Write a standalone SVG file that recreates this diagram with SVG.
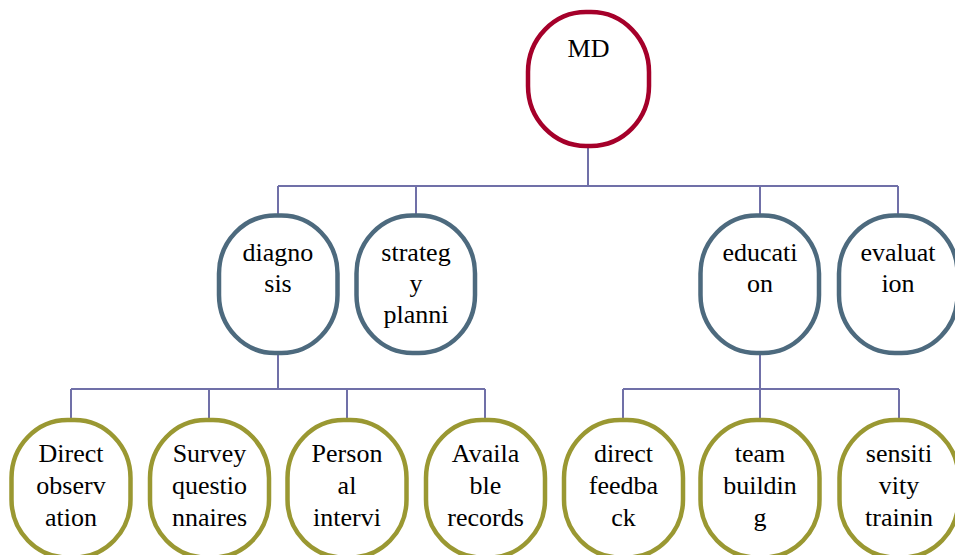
<svg xmlns="http://www.w3.org/2000/svg" width="955" height="555" viewBox="0 0 955 555">
<style>
.n{fill:#ffffff;stroke-width:4.5}
.top{stroke:#a5002a}
.l2{stroke:#4d6a7e}
.l3{stroke:#9a9832}
.c{fill:none;stroke:#7070a8;stroke-width:2}
text{font-family:"Liberation Serif","Times New Roman",serif;font-size:26px;fill:#000;text-anchor:middle}
</style>
<rect width="955" height="555" fill="#ffffff"/>
<g id="connectors">
<path class="c" d="M588,146V186M278,186H898M278,186V215M416,186V215M760,186V215M898,186V215"/>
<path class="c" d="M278,353V389M71,389H485M71,389V420M209,389V420M347,389V420M485,389V420"/>
<path class="c" d="M760,353V389M623,389H899M623,389V420M760,389V420M899,389V420"/>
</g>
<g id="MD"><rect class="n top" x="528" y="12" width="121" height="134" rx="58" ry="60"/><text x="588.5" y="57">MD</text></g>
<g id="diagnosis"><rect class="n l2" x="219" y="215.5" width="118.5" height="137.5" rx="56" ry="58"/><text x="278" y="261">diagno</text><text x="278" y="292">sis</text></g>
<g id="strategy"><rect class="n l2" x="356.5" y="215.5" width="118.5" height="137.5" rx="56" ry="58"/><text x="416" y="261">strateg</text><text x="416" y="292">y</text><text x="416" y="323">planni</text></g>
<g id="education"><rect class="n l2" x="700.5" y="215.5" width="118.5" height="137.5" rx="56" ry="58"/><text x="760" y="261">educati</text><text x="760" y="292">on</text></g>
<g id="evaluation"><rect class="n l2" x="839" y="215.5" width="118.5" height="137.5" rx="56" ry="58"/><text x="898" y="261">evaluat</text><text x="898" y="292">ion</text></g>
<g id="direct-observation"><rect class="n l3" x="11.5" y="420" width="119" height="137.5" rx="56" ry="58"/><text x="71" y="462">Direct</text><text x="71" y="494">observ</text><text x="71" y="526">ation</text></g>
<g id="survey-questionnaires"><rect class="n l3" x="150" y="420" width="119" height="137.5" rx="56" ry="58"/><text x="209.5" y="462">Survey</text><text x="209.5" y="494">questio</text><text x="209.5" y="526">nnaires</text></g>
<g id="personal-interview"><rect class="n l3" x="287.5" y="420" width="119" height="137.5" rx="56" ry="58"/><text x="347" y="462">Person</text><text x="347" y="494">al</text><text x="347" y="526">intervi</text></g>
<g id="available-records"><rect class="n l3" x="426" y="420" width="119" height="137.5" rx="56" ry="58"/><text x="485.5" y="462">Availa</text><text x="485.5" y="494">ble</text><text x="485.5" y="526">records</text></g>
<g id="direct-feedback"><rect class="n l3" x="564" y="420" width="119" height="137.5" rx="56" ry="58"/><text x="623.5" y="462">direct</text><text x="623.5" y="494">feedba</text><text x="623.5" y="526">ck</text></g>
<g id="team-building"><rect class="n l3" x="700.5" y="420" width="119" height="137.5" rx="56" ry="58"/><text x="760" y="462">team</text><text x="760" y="494">buildin</text><text x="760" y="526">g</text></g>
<g id="sensitivity-training"><rect class="n l3" x="839.5" y="420" width="119" height="137.5" rx="56" ry="58"/><text x="899" y="462">sensiti</text><text x="899" y="494">vity</text><text x="899" y="526">trainin</text></g>
</svg>
